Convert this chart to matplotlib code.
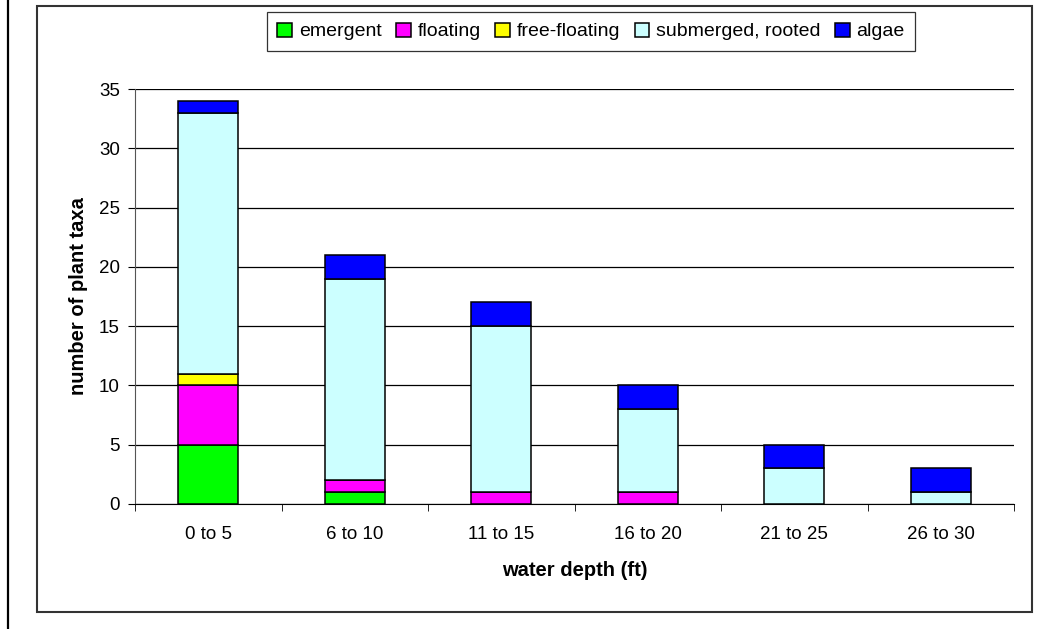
import numpy as np
import matplotlib
matplotlib.use("Agg")
import matplotlib.pyplot as plt
from matplotlib.patches import Rectangle
from matplotlib.lines import Line2D

plt.rcParams.update({
    "font.family": ["Liberation Sans", "DejaVu Sans"],
})

categories = ["0 to 5", "6 to 10", "11 to 15", "16 to 20", "21 to 25", "26 to 30"]
emergent = [5, 1, 0, 0, 0, 0]
floating = [5, 1, 1, 1, 0, 0]
free_floating = [1, 0, 0, 0, 0, 0]
submerged = [22, 17, 14, 7, 3, 1]
algae = [1, 2, 2, 2, 2, 2]

series = [
    ("emergent", emergent, "#00FF00"),
    ("floating", floating, "#FF00FF"),
    ("free-floating", free_floating, "#FFFF00"),
    ("submerged, rooted", submerged, "#CCFFFF"),
    ("algae", algae, "#0000FF"),
]

W, H = 1050, 629
fig = plt.figure(figsize=(W / 100, H / 100), dpi=100)
fig.patch.set_facecolor("white")

# plot area in pixels: x 135..1014, y 89 (35) .. 504 (0)
ax = fig.add_axes([135 / W, (H - 504) / H, (1014 - 135) / W, (504 - 89) / H])

x = np.arange(len(categories))
bottom = np.zeros(len(categories))
for name, vals, col in series:
    vals = np.array(vals, dtype=float)
    ax.bar(x, vals, width=0.41, bottom=bottom, color=col, edgecolor="black",
           linewidth=1.1, label=name, zorder=3)
    bottom += vals

ax.set_xlim(-0.5, len(categories) - 0.5)
ax.set_ylim(0, 35)
ax.set_yticks(np.arange(0, 36, 5))
ax.yaxis.grid(True, color="black", linewidth=0.9, zorder=0)
ax.set_axisbelow(True)

ax.set_xticks(x)
ax.set_xticklabels(categories, fontsize=13.5)
ax.set_xticks(np.arange(len(categories) + 1) - 0.5, minor=True)
ax.tick_params(axis="x", which="major", length=0, pad=16)
ax.tick_params(axis="x", which="minor", length=5, direction="out", color="black")
ax.tick_params(axis="y", length=5, direction="out", pad=6, labelsize=13.5, color="black")

for s in ["top", "right"]:
    ax.spines[s].set_visible(False)
ax.spines["left"].set_color("#555555")
ax.spines["bottom"].set_color("black")

ax.set_xlabel("water depth (ft)", fontsize=14.5, fontweight="bold", labelpad=13)
ax.set_ylabel("number of plant taxa", fontsize=14.5, fontweight="bold", labelpad=8)

leg = fig.legend(loc="center", bbox_to_anchor=(591 / W, 1 - 31.5 / H), ncol=5,
                 fontsize=14, frameon=True, fancybox=False, edgecolor="black",
                 handlelength=0.75, handleheight=0.75, handletextpad=0.35,
                 columnspacing=0.75, borderpad=0.55, borderaxespad=0)
leg.get_frame().set_linewidth(0.9)

# chart border and left rule
fig.add_artist(Rectangle((37 / W, (H - 612) / H), (1032 - 37) / W, (612 - 6) / H,
                         transform=fig.transFigure, fill=False,
                         edgecolor="#333333", linewidth=1.5))
fig.add_artist(Line2D([7.5 / W, 7.5 / W], [0, 1], transform=fig.transFigure,
                      color="black", linewidth=1.6))

fig.savefig("out.png", dpi=100, facecolor="white")
